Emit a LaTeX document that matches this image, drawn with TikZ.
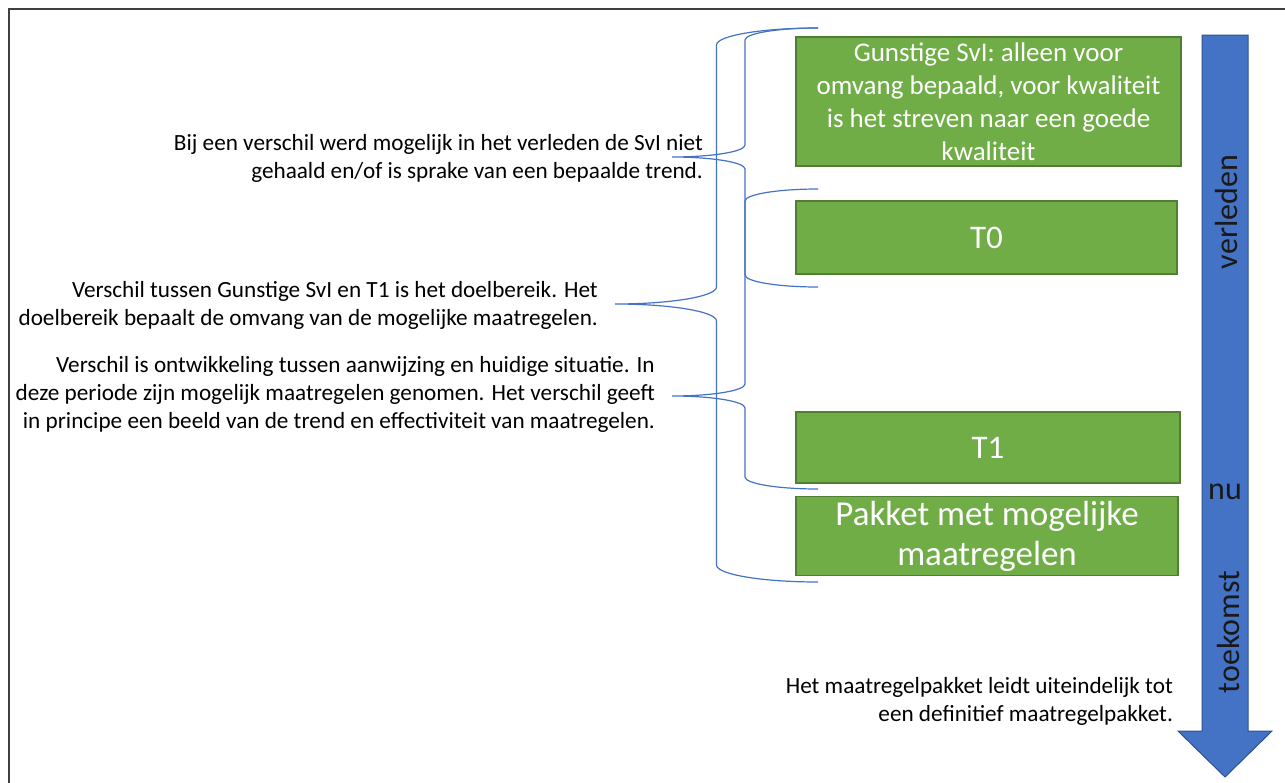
\documentclass[tikz,border=0pt]{standalone}
\usepackage{fontspec}
\setmainfont{Carlito}
\definecolor{boxgreen}{HTML}{70AD47}
\definecolor{boxgreenline}{HTML}{507E32}
\definecolor{arrowblue}{HTML}{4472C4}
\definecolor{arrowline}{HTML}{2F528F}
\definecolor{framegray}{HTML}{404040}
\newcommand\pbrace[6]{% xr xl yt yb ytip ry
  \draw[bracestyle] (#1,#3)
    .. controls ({#1-0.5523*(#1-#2)/2},#3) and ({(#1+#2)/2},{#3+#6*(1-0.5523)}) .. ({(#1+#2)/2},{#3+#6})
    -- ({(#1+#2)/2},{#5-#6})
    .. controls ({(#1+#2)/2},{#5-#6*(1-0.5523)}) and ({#2+0.5523*(#1-#2)/2},#5) .. (#2,#5)
    .. controls ({#2+0.5523*(#1-#2)/2},#5) and ({(#1+#2)/2},{#5+#6*(1-0.5523)}) .. ({(#1+#2)/2},{#5+#6})
    -- ({(#1+#2)/2},{#4-#6})
    .. controls ({(#1+#2)/2},{#4-#6*(1-0.5523)}) and ({#1-0.5523*(#1-#2)/2},#4) .. (#1,#4);}
\begin{document}
\begin{tikzpicture}[x=1pt,y=-1pt,
  greenbox/.style={draw=boxgreenline, line width=1.4pt, fill=boxgreen, text=white, align=center, inner sep=0pt},
  smalltext/.style={font=\fontsize{23.2}{28}\selectfont, align=right, inner sep=0pt, text=black},
  arrowtext/.style={font=\fontsize{32}{38}\selectfont, inner sep=0pt, text=black!90},
  bracestyle/.style={draw=arrowblue, line width=1.2pt}]
\useasboundingbox (0,0) rectangle (1285,782);
\fill[white] (0,0) rectangle (1285,782);
% frame
\draw[framegray, line width=2pt] (9,790) -- (9,9) -- (1290,9);
% green boxes
\node[greenbox, minimum width=385pt, minimum height=129pt, font=\fontsize{27}{33}\selectfont] (svi) at (988.5,101.5)
  {Gunstige SvI: alleen voor\\omvang bepaald, voor kwaliteit\\is het streven naar een goede\\kwaliteit};
\node[greenbox, minimum width=381pt, minimum height=73pt, font=\fontsize{33}{39}\selectfont] (t0) at (986.5,237.5) {T0};
\node[greenbox, minimum width=384pt, minimum height=71pt, font=\fontsize{33}{39}\selectfont] (t1) at (988,447.5) {T1};
\node[greenbox, minimum width=382pt, minimum height=79pt, font=\fontsize{35}{40}\selectfont] (pakket) at (987,536) {Pakket met mogelijke\\maatregelen};
% arrow
\draw[fill=arrowblue, draw=arrowline, line width=1pt]
  (1202,35) -- (1248,35) -- (1248,731) -- (1272,731) -- (1225,777) -- (1178,731) -- (1202,731) -- cycle;
\node[arrowtext, rotate=90, anchor=base] (verleden) at (1237,212) {verleden};
\node[arrowtext, anchor=base] (nu) at (1225,499) {nu};
\node[arrowtext, rotate=90, anchor=base] (toekomst) at (1239,632) {toekomst};
% braces
\pbrace{818}{615}{28}{582}{304}{17}
\pbrace{818}{672}{28}{287}{157}{12}
\pbrace{818}{672}{189}{489}{396}{12}
% texts
\node[smalltext, anchor=east] (txta) at (703,158)
  {Bij een verschil werd mogelijk in het verleden de SvI niet\\gehaald en/of is sprake van een bepaalde trend.};
\node[smalltext, anchor=east] (txtb) at (598,305)
  {Verschil tussen Gunstige SvI en T1 is het doelbereik. Het\\doelbereik bepaalt de omvang van de mogelijke maatregelen.};
\node[smalltext, anchor=east] (txtc) at (655,394)
  {Verschil is ontwikkeling tussen aanwijzing en huidige situatie. In\\deze periode zijn mogelijk maatregelen genomen. Het verschil geeft\\in principe een beeld van de trend en effectiviteit van maatregelen.};
\node[smalltext, anchor=east] (txtd) at (1173,701)
  {Het maatregelpakket leidt uiteindelijk tot\\een definitief maatregelpakket.};
\end{tikzpicture}
\end{document}
